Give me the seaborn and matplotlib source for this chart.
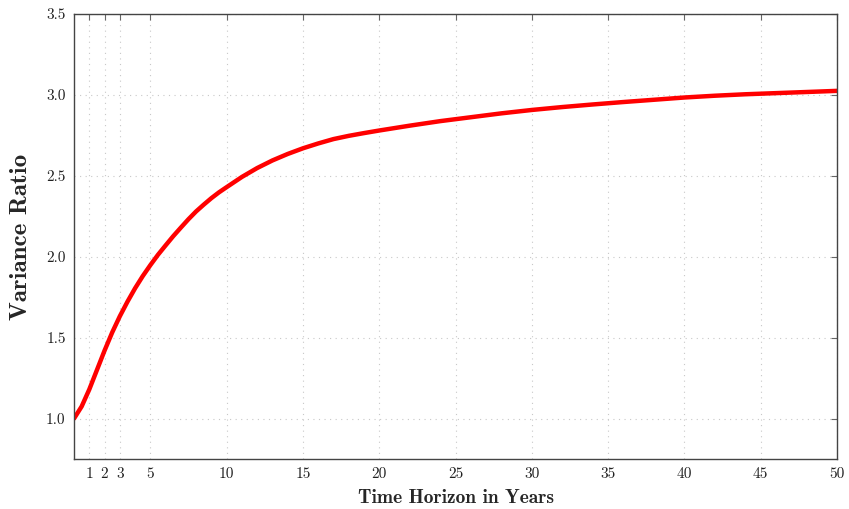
import pandas as pd
import matplotlib.pyplot as plt
import seaborn as sns

# Variance ratio
years = [0, 0.5, 1, 1.5, 2, 2.5, 3, 3.5, 4, 4.5, 5, 5.5, 6, 6.5, 7, 7.5,
         8, 8.5, 9, 9.5, 10, 11, 12, 13, 14, 15, 16, 17, 18, 19, 20,
         22, 24, 26, 28, 30, 32, 34, 36, 38, 40, 42, 44, 46, 48, 50]
ratio = [1.00, 1.075, 1.18, 1.30, 1.42, 1.532, 1.632, 1.722, 1.805, 1.88,
         1.948, 2.012, 2.07, 2.127, 2.18, 2.232, 2.28, 2.322, 2.362, 2.398,
         2.43, 2.493, 2.548, 2.595, 2.635, 2.67, 2.70, 2.727, 2.747, 2.764,
         2.78, 2.81, 2.838, 2.862, 2.886, 2.907, 2.925, 2.941, 2.956, 2.97,
         2.984, 2.995, 3.004, 3.011, 3.018, 3.025]
xticks = [1, 2, 3, 5, 10, 15, 20, 25, 30, 35, 40, 45, 50]
yticks = [1.0, 1.5, 2.0, 2.5, 3.0, 3.5]

df = pd.DataFrame({"Years": years, "Ratio": ratio})

sns.set_style("white")
plt.rcParams["font.family"] = ["cmr10", "DejaVu Serif"]
plt.rcParams["axes.formatter.use_mathtext"] = True

fig = plt.figure(figsize=(8.49, 5.09), dpi=100)
ax = fig.add_axes([0.0872, 0.0982, 0.8987, 0.8743])

sns.lineplot(data=df, x="Years", y="Ratio", color="red", linewidth=3.2, ax=ax)
ax.lines[0].set_solid_joinstyle("round")

ax.set_xlim(0, 50)
ax.set_ylim(0.75, 3.5)
ax.set_xticks(xticks)
ax.set_yticks(yticks)
ax.set_xticklabels([str(t) for t in xticks])
ax.set_yticklabels([f"{t:.1f}" for t in yticks])
ax.tick_params(direction="in", length=4, width=0.8, color="#666666",
               top=True, right=True, labelsize=11, labelcolor="#222222", pad=6)
ax.grid(True, linestyle=(0, (1, 4)), color="#c8c8c8", linewidth=0.8)
for s in ax.spines.values():
    s.set_color("#444444")
    s.set_linewidth(1.0)

ax.set_xlabel("Time Horizon in Years", family=["cmb10", "DejaVu Serif"],
              fontsize=14, labelpad=6)
ax.set_ylabel("Variance Ratio", family=["cmb10", "DejaVu Serif"],
              fontsize=18, labelpad=10)

fig.savefig("out.png", dpi=100)
